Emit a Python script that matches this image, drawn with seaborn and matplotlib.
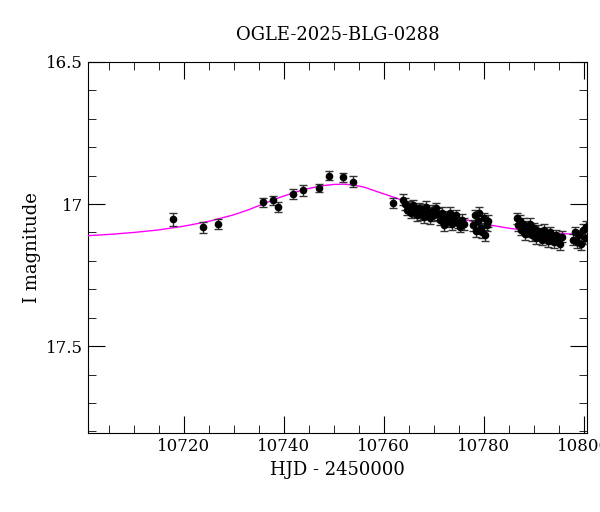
import numpy as np
import matplotlib
matplotlib.use("Agg")
import matplotlib.pyplot as plt
import seaborn as sns
from matplotlib.ticker import MultipleLocator

# photometry (HJD-2450000, I mag, error)
hjd = [10717.8, 10723.9, 10726.8, 10735.8, 10737.8, 10738.9, 10741.9, 10743.9,
       10747.0, 10749.0, 10751.9, 10753.9, 10761.8,
       10763.8, 10764.3, 10764.7, 10765.0, 10765.4, 10765.8, 10766.2, 10766.6,
       10767.0, 10767.3, 10767.7, 10768.1, 10768.5, 10768.9, 10769.3, 10769.7,
       10770.1, 10770.5, 10770.9, 10771.3, 10771.7, 10772.1, 10772.5, 10772.9,
       10773.3, 10773.7, 10774.1, 10774.5, 10774.9, 10775.3, 10775.7, 10776.1,
       10777.9, 10778.2, 10778.5, 10778.8, 10779.1, 10779.4, 10779.7, 10780.0,
       10780.3, 10780.6, 10780.9,
       10786.6, 10786.9, 10787.2, 10787.5, 10787.8, 10788.2, 10788.5, 10788.9,
       10789.3, 10789.7, 10790.1, 10790.5, 10790.9, 10791.3, 10791.7, 10792.1,
       10792.5, 10792.9, 10793.3, 10793.7, 10794.1, 10794.5, 10794.9, 10795.3,
       10795.7, 10797.9, 10798.3, 10798.7, 10799.0, 10799.4, 10799.8, 10800.2,
       10800.5]
mag = [17.054, 17.082, 17.071, 16.994, 16.986, 17.009, 16.964, 16.952,
       16.944, 16.900, 16.906, 16.921, 16.995,
       16.985, 17.000, 17.020, 17.010, 17.030, 17.005, 17.025, 17.040,
       17.015, 17.035, 17.020, 17.045, 17.010, 17.030, 17.050, 17.025,
       17.040, 17.015, 17.035, 17.055, 17.030, 17.075, 17.045, 17.060,
       17.030, 17.070, 17.050, 17.040, 17.065, 17.080, 17.055, 17.070,
       17.075, 17.040, 17.095, 17.060, 17.030, 17.085, 17.100, 17.050,
       17.110, 17.075, 17.060,
       17.050, 17.075, 17.060, 17.090, 17.070, 17.105, 17.080, 17.095,
       17.070, 17.110, 17.085, 17.120, 17.095, 17.105, 17.125, 17.090,
       17.115, 17.130, 17.100, 17.120, 17.135, 17.110, 17.125, 17.140,
       17.115, 17.125, 17.100, 17.135, 17.110, 17.140, 17.090, 17.120,
       17.080]
err = [0.022, 0.020, 0.018, 0.017, 0.016, 0.018, 0.018, 0.018,
       0.015, 0.017, 0.016, 0.018, 0.018] + [0.020] * 76

# model light curve
model_t = [10700, 10705, 10710, 10715, 10720, 10725, 10730, 10733, 10736, 10739,
           10742, 10745, 10748, 10750, 10752, 10754, 10756, 10758, 10761, 10764,
           10768, 10772, 10776, 10780, 10785, 10790, 10795, 10801]
model_mag = [17.112, 17.107, 17.100, 17.091, 17.078, 17.061, 17.038, 17.020, 16.999,
             16.978, 16.960, 16.945, 16.935, 16.931, 16.930, 16.933, 16.940, 16.952,
             16.970, 16.988, 17.012, 17.035, 17.054, 17.070, 17.085, 17.096, 17.103,
             17.109]

plt.rcParams["font.family"] = "DejaVu Serif"
fig = plt.figure(figsize=(6, 5.12), dpi=100)
ax = fig.add_axes([0.1467, 0.154, 0.8313, 0.725])

sns.lineplot(x=model_t, y=model_mag, color="magenta", lw=1, ax=ax, zorder=3)
ax.errorbar(hjd, mag, yerr=err, fmt="o", color="black", ms=4.5, capsize=3,
            elinewidth=1, capthick=1, ecolor="#333333", zorder=4)

ax.set_xlim(10700.9, 10800.6)
ax.set_ylim(17.806, 16.5)
ax.xaxis.set_major_locator(MultipleLocator(20))
ax.xaxis.set_minor_locator(MultipleLocator(5))
ax.yaxis.set_major_locator(MultipleLocator(0.5))
ax.yaxis.set_minor_locator(MultipleLocator(0.1))
ax.set_yticks([16.5, 17, 17.5])
ax.set_yticklabels(["16.5", "17", "17.5"])
ax.tick_params(which="both", direction="in", top=True, right=True, labelsize=12)
ax.tick_params(which="major", length=12)
ax.tick_params(which="minor", length=6)
ax.set_xlabel("HJD - 2450000", fontsize=13)
ax.set_ylabel("I magnitude", fontsize=13)
ax.set_title("OGLE-2025-BLG-0288", fontsize=13, pad=16)

fig.savefig("out.png", dpi=100)
